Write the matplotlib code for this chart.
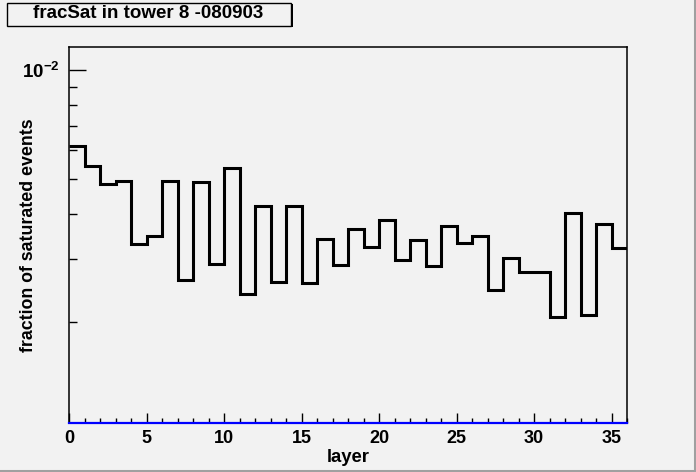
import matplotlib
matplotlib.use('Agg')
import matplotlib.pyplot as plt
from matplotlib.patches import Rectangle
from matplotlib.lines import Line2D
from matplotlib.ticker import FixedLocator, FixedFormatter, NullFormatter, MultipleLocator
import numpy as np

plt.rcParams['font.family'] = ['Liberation Sans', 'DejaVu Sans']
plt.rcParams['font.weight'] = 'bold'
plt.rcParams['axes.unicode_minus'] = False
plt.rcParams['mathtext.fontset'] = 'custom'
plt.rcParams['mathtext.rm'] = 'Liberation Sans:bold'
plt.rcParams['mathtext.bf'] = 'Liberation Sans:bold'
plt.rcParams['mathtext.default'] = 'bf'

# fraction of saturated events per layer (tower 8)
layers = np.arange(0, 37)
frac_sat = [6.15e-3, 5.41e-3, 4.82e-3, 4.94e-3, 3.29e-3, 3.46e-3, 4.92e-3, 2.62e-3,
            4.89e-3, 2.90e-3, 5.37e-3, 2.39e-3, 4.21e-3, 2.59e-3, 4.21e-3, 2.57e-3,
            3.41e-3, 2.89e-3, 3.63e-3, 3.24e-3, 3.85e-3, 2.97e-3, 3.39e-3, 2.87e-3,
            3.69e-3, 3.31e-3, 3.46e-3, 2.45e-3, 3.02e-3, 2.75e-3, 2.75e-3, 2.07e-3,
            4.02e-3, 2.09e-3, 3.75e-3, 3.22e-3]
y_major = [1e-2]
y_major_labels = [r'$10^{-2}$']
y_minor = [2e-3, 3e-3, 4e-3, 5e-3, 6e-3, 7e-3, 8e-3, 9e-3]

bg = '#f2f2f2'
fig = plt.figure(figsize=(6.96, 4.72), dpi=100, facecolor=bg)
ax = fig.add_axes([69/696, 49/472, 558/696, 376/472])
ax.set_facecolor(bg)

ax.stairs(frac_sat, layers, baseline=None, color='black', linewidth=2.2)

ax.set_yscale('log')
ax.set_xlim(0, 36)
ax.set_ylim(1.05e-3, 1.16e-2)

ax.xaxis.set_major_locator(MultipleLocator(5))
ax.xaxis.set_minor_locator(MultipleLocator(1))
ax.yaxis.set_major_locator(FixedLocator(y_major))
ax.yaxis.set_major_formatter(FixedFormatter(y_major_labels))
ax.yaxis.set_minor_locator(FixedLocator(y_minor))
ax.yaxis.set_minor_formatter(NullFormatter())

ax.tick_params(axis='x', which='major', direction='in', length=7, width=1, labelsize=13, pad=5)
ax.tick_params(axis='x', which='minor', direction='in', length=3.6, width=1)
ax.tick_params(axis='y', which='major', direction='in', length=12, width=1, labelsize=13.5, pad=7)
ax.tick_params(axis='y', which='minor', direction='in', length=6, width=1)
ax.tick_params(top=False, right=False, which='both')

for s in ax.spines.values():
    s.set_linewidth(1.1)
ax.spines['bottom'].set_color('blue')
ax.spines['bottom'].set_linewidth(1.6)

ax.set_xlabel('layer', fontsize=13.3, fontweight='bold')
ax.set_ylabel('fraction of saturated events', fontsize=12.8, fontweight='bold')
ax.yaxis.set_label_coords(-0.057, 0.5)
ax.xaxis.set_label_coords(0.5, -0.068)

# title box with shadow
fig.patches.append(Rectangle((9/696, (472-27)/472), 284/696, 23/472, transform=fig.transFigure,
                             facecolor='black', edgecolor='none', zorder=1))
fig.patches.append(Rectangle((7/696, (472-26)/472), 284/696, 23/472, transform=fig.transFigure,
                             facecolor=bg, edgecolor='black', linewidth=1, zorder=2))
fig.text(148/696, (472-14)/472, 'fracSat in tower 8 -080903', fontsize=13.5, fontweight='bold',
         ha='center', va='center', zorder=3)

# canvas border (right and bottom only)
fig.lines.append(Line2D([1 - 1.5/696, 1 - 1.5/696], [0, 1], transform=fig.transFigure,
                        color='#a0a0a0', linewidth=2.2))
fig.lines.append(Line2D([0, 1], [1.5/472, 1.5/472], transform=fig.transFigure,
                        color='#a0a0a0', linewidth=2.2))

fig.savefig('out.png', dpi=100, facecolor=bg)
